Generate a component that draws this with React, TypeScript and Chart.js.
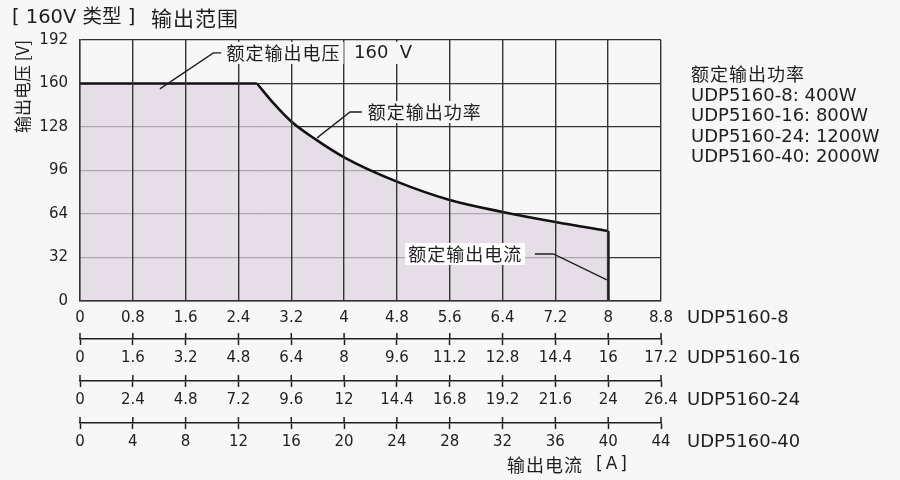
import { useEffect, useRef } from "react";
import { Chart, registerables } from "chart.js";

Chart.register(...registerables);

// rated output envelope (current [A] for the 8 A model, voltage [V])
const flatCurrent = [0, 2.68];
const flatVoltage = [160, 160];
const powerCurrent = [2.68, 2.93, 3.2, 3.58, 4, 4.8, 5.6, 6.4, 7.2, 8];
const powerVoltage = [160, 145.5, 132, 118.5, 105.7, 87.8, 74.3, 65.5, 58.1, 51.5];
const limitCurrent = [8, 8];
const limitVoltage = [51.5, 0];

const voltageTicks = [0, 32, 64, 96, 128, 160, 192];
const models = ["UDP5160-8", "UDP5160-16", "UDP5160-24", "UDP5160-40"];
const modelMaxCurrent = [8.8, 17.6, 26.4, 44];
const ratedPower = ["400W", "800W", "1200W", "2000W"];
const currentTickLabels = [
  ["0", "0.8", "1.6", "2.4", "3.2", "4", "4.8", "5.6", "6.4", "7.2", "8", "8.8"],
  ["0", "1.6", "3.2", "4.8", "6.4", "8", "9.6", "11.2", "12.8", "14.4", "16", "17.2"],
  ["0", "2.4", "4.8", "7.2", "9.6", "12", "14.4", "16.8", "19.2", "21.6", "24", "26.4"],
  ["0", "4", "8", "12", "16", "20", "24", "28", "32", "36", "40", "44"],
];

const FONT = "'DejaVu Sans', 'Noto Sans CJK SC', sans-serif";
const CJK = "'Noto Sans CJK SC', sans-serif";
const INK = "#1e1e1e";
const BG = "#f7f7f7";
const axisIds = ["x", "x16", "x24", "x40"];

const pts = (xs: number[], ys: number[]) => xs.map((x, i) => ({ x, y: ys[i] }));

function currentAxis(k: number) {
  const main = k === 0;
  const labels = currentTickLabels[k];
  const max = modelMaxCurrent[k];
  return {
    type: "linear" as const,
    position: "bottom" as const,
    weight: k,
    min: 0,
    max,
    afterBuildTicks: (s: any) => {
      s.ticks = labels.map((_, i) => ({ value: (max / (labels.length - 1)) * i }));
    },
    afterFit: (s: any) => {
      s.height = main ? 38 : 42;
    },
    grid: main
      ? { color: "#333", lineWidth: 1.4, drawTicks: false, z: 1 }
      : {
          drawOnChartArea: false,
          drawTicks: true,
          tickLength: 6,
          tickColor: INK,
          tickWidth: 1.5,
        },
    border: { display: true, color: main ? "#333" : INK, width: main ? 1.4 : 1.5, z: 1 },
    ticks: {
      autoSkip: false,
      maxRotation: 0,
      padding: main ? 8 : 4,
      color: INK,
      font: { family: FONT, size: 15 },
      callback: (_v: any, i: number) => labels[i],
    },
  };
}

const decor = {
  id: "decor",
  afterDraw(chart: any) {
    const { ctx, chartArea, scales } = chart;
    const px = (i: number) => scales.x.getPixelForValue(i);
    const py = (v: number) => scales.y.getPixelForValue(v);
    ctx.save();
    ctx.strokeStyle = INK;
    ctx.fillStyle = INK;

    // upper half of the tick marks on the extra current axes
    ctx.lineWidth = 1.5;
    axisIds.slice(1).forEach((id) => {
      const s = scales[id];
      s.ticks.forEach((_: any, i: number) => {
        const p = s.getPixelForTick(i);
        ctx.beginPath();
        ctx.moveTo(p, s.top - 6);
        ctx.lineTo(p, s.top);
        ctx.stroke();
      });
    });

    // model names next to each current axis
    ctx.textBaseline = "middle";
    ctx.textAlign = "left";
    ctx.font = `18px ${FONT}`;
    axisIds.forEach((id, k) => {
      const s = scales[id];
      const y = k === 0 ? s.top + 17 : s.top + 19;
      ctx.fillText(models[k], chartArea.right + 26, y);
    });

    // rated power legend
    const lx = chartArea.right + 30;
    ctx.font = `18px ${CJK}`;
    ctx.letterSpacing = "1px";
    ctx.fillText("额定输出功率", lx, chartArea.top + 34);
    ctx.letterSpacing = "0px";
    ctx.font = `18px ${FONT}`;
    models.forEach((m, k) => {
      ctx.fillText(`${m}: ${ratedPower[k]}`, lx, chartArea.top + 56 + k * 20.5);
    });

    // chart title
    ctx.font = `19.5px ${FONT}`;
    ctx.fillText("[ 160V 类型 ]", 12, 18);
    ctx.font = `21px ${CJK}`;
    ctx.letterSpacing = "1px";
    ctx.fillText("输出范围", 151, 18);
    ctx.letterSpacing = "0px";

    // x axis title
    const last = scales.x40;
    ctx.font = `18px ${CJK}`;
    ctx.letterSpacing = "1px";
    ctx.fillText("输出电流", 507, last.top + 42);
    ctx.font = `17px ${FONT}`;
    ctx.letterSpacing = "3px";
    ctx.fillText("[A]", 596, last.top + 42);
    ctx.letterSpacing = "0px";

    // callouts
    const tag = (text: string, i: number, v: number, fill: string) => {
      ctx.font = `18px ${CJK}`;
      ctx.letterSpacing = "1px";
      const w = ctx.measureText(text).width;
      ctx.fillStyle = fill;
      ctx.fillRect(px(i) - 3, py(v) - 11, w + 6, 22);
      ctx.fillStyle = INK;
      ctx.fillText(text, px(i), py(v));
      ctx.letterSpacing = "0px";
    };
    const leader = (line: [number, number][]) => {
      ctx.lineWidth = 1.4;
      ctx.beginPath();
      line.forEach(([i, v], n) => (n ? ctx.lineTo(px(i), py(v)) : ctx.moveTo(px(i), py(v))));
      ctx.stroke();
    };

    tag("额定输出电压", 2.22, 182.5, BG);
    ctx.font = `18px ${FONT}`;
    const vText = "160  V";
    const vw = ctx.measureText(vText).width;
    ctx.fillStyle = BG;
    ctx.fillRect(px(4.15) - 4, py(182.5) - 11, vw + 8, 22);
    ctx.fillStyle = INK;
    ctx.fillText(vText, px(4.15), py(182.5));
    leader([[1.21, 156], [2.02, 182.5], [2.14, 182.5]]);

    tag("额定输出功率", 4.36, 139, BG);
    leader([[3.59, 120], [4.09, 139], [4.27, 139]]);

    tag("额定输出电流", 4.97, 34.6, "#ffffff");
    leader([[6.89, 34.6], [7.17, 34.6], [7.98, 15.5]]);

    ctx.restore();
  },
};

export default function App() {
  const canvasRef = useRef<HTMLCanvasElement>(null);

  useEffect(() => {
    if (!canvasRef.current) return;
    const line = {
      borderColor: "#111",
      borderWidth: 2.6,
      pointRadius: 0,
      xAxisID: "x",
      yAxisID: "y",
    };
    const fillColor = "rgba(222,212,224,0.72)";
    const scales: any = {
      y: {
        type: "linear",
        position: "left",
        min: 0,
        max: 192,
        afterBuildTicks: (s: any) => {
          s.ticks = voltageTicks.map((value) => ({ value }));
        },
        afterFit: (s: any) => {
          s.width = 80;
        },
        grid: { color: "#333", lineWidth: 1.3, drawTicks: false },
        border: { display: true, color: "#333", width: 1.4, z: 1 },
        ticks: { padding: 12, color: INK, font: { family: FONT, size: 15 } },
        title: {
          display: true,
          text: "输出电压 [V]",
          align: "end",
          color: INK,
          padding: { top: 12, bottom: 0 },
          font: { family: CJK, size: 17 },
        },
      },
    };
    axisIds.forEach((id, k) => {
      scales[id] = currentAxis(k);
    });

    const chart = new Chart(canvasRef.current, {
      type: "line",
      data: {
        datasets: [
          { ...line, data: pts(flatCurrent, flatVoltage), fill: "origin", backgroundColor: fillColor },
          {
            ...line,
            data: pts(powerCurrent, powerVoltage),
            fill: "origin",
            backgroundColor: fillColor,
            cubicInterpolationMode: "monotone",
          },
          { ...line, data: pts(limitCurrent, limitVoltage), fill: false, borderWidth: 3 },
        ],
      },
      options: {
        animation: false,
        responsive: true,
        maintainAspectRatio: false,
        layout: { padding: { top: 40, right: 239, bottom: 15, left: 0 } },
        plugins: { legend: { display: false }, tooltip: { enabled: false } },
        scales,
      },
      plugins: [decor],
    });
    return () => chart.destroy();
  }, []);

  return (
    <div
      style={{
        position: "fixed",
        left: 0,
        top: 0,
        width: 900,
        height: 480,
        background: BG,
      }}
    >
      <canvas ref={canvasRef} />
    </div>
  );
}
